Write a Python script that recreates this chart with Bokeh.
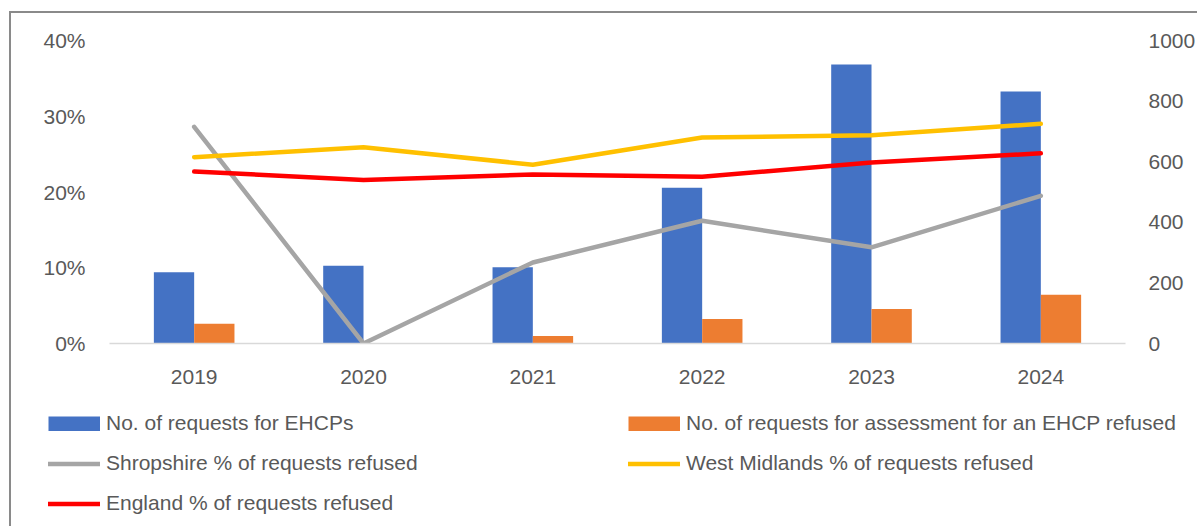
from bokeh.plotting import figure
from bokeh.models import (FactorRange, Range1d, LinearAxis, FixedTicker,
                          NumeralTickFormatter, Legend, LegendItem, ColumnDataSource)
from bokeh.transform import dodge
from bokeh.embed import file_html
from bokeh.resources import INLINE

# ---- data ----
years = ["2019", "2020", "2021", "2022", "2023", "2024"]
ehcp_requests = [235, 257, 252, 514, 921, 832]
requests_refused = [65, 0, 25, 81, 114, 161]
shropshire_pct = [0.286, 0.0, 0.107, 0.162, 0.127, 0.195]
west_midlands_pct = [0.246, 0.259, 0.236, 0.272, 0.275, 0.290]
england_pct = [0.227, 0.216, 0.223, 0.220, 0.239, 0.251]
pct_ticks = [0, 0.1, 0.2, 0.3, 0.4]
count_ticks = [0, 200, 400, 600, 800, 1000]

BLUE, ORANGE, GRAY, YELLOW, RED = "#4472C4", "#ED7D31", "#A5A5A5", "#FFC000", "#FF0000"
TXT = "#595959"
FONT = "Liberation Sans"
BORDER = "2px solid #8a8a8a"

src = ColumnDataSource(dict(years=years, ehcp=ehcp_requests, refused=requests_refused,
                            shrop=shropshire_pct, wm=west_midlands_pct, eng=england_pct))

W, HT, HB = 1188, 390, 125
p = figure(width=W, height=HT, x_range=FactorRange(factors=years, range_padding=0),
           y_range=Range1d(0, 0.4), output_backend="svg", toolbar_location=None,
           min_border_left=98, min_border_right=74, min_border_top=27, min_border_bottom=60)
p.styles = {"border-left": BORDER, "border-top": BORDER,
            "margin-left": "9px", "margin-top": "11px"}
p.extra_y_ranges = {"count": Range1d(0, 1000)}
p.outline_line_color = None
p.xgrid.grid_line_color = None
p.ygrid.grid_line_color = None
p.border_fill_color = "white"

bw = 0.238
p.vbar(x=dodge("years", -bw / 2, range=p.x_range), top="ehcp", width=bw, source=src,
       fill_color=BLUE, line_color=None, y_range_name="count")
p.vbar(x=dodge("years", bw / 2, range=p.x_range), top="refused", width=bw, source=src,
       fill_color=ORANGE, line_color=None, y_range_name="count")

lw = 4.5
line_kw = dict(line_width=lw, line_cap="round", line_join="round")
p.line("years", "shrop", source=src, line_color=GRAY, **line_kw)
p.line("years", "wm", source=src, line_color=YELLOW, **line_kw)
p.line("years", "eng", source=src, line_color=RED, **line_kw)

# axes
ax = p.xaxis[0]
ax.axis_line_color = "#D9D9D9"
ax.axis_line_width = 1.5
ax.major_tick_line_color = None
ax.minor_tick_line_color = None
ax.major_label_text_font = FONT
ax.major_label_text_font_size = "21px"
ax.major_label_text_color = TXT
ax.major_label_standoff = 20

ly = p.yaxis[0]
ly.ticker = FixedTicker(ticks=pct_ticks)
ly.formatter = NumeralTickFormatter(format="0%")
ly.major_label_standoff = 18
ry = LinearAxis(y_range_name="count", ticker=FixedTicker(ticks=count_ticks))
ry.major_label_standoff = 17
p.add_layout(ry, "right")
for a in (ly, ry):
    a.axis_line_color = None
    a.major_tick_line_color = None
    a.minor_tick_line_color = None
    a.major_label_text_font = FONT
    a.major_label_text_font_size = "21px"
    a.major_label_text_color = TXT

# ---- legend strip (separate root, frame = whole canvas) ----
q = figure(width=W, height=HB, x_range=Range1d(0, W), y_range=Range1d(0, HB),
           x_axis_type=None, y_axis_type=None, output_backend="svg", toolbar_location=None,
           min_border=0, min_border_left=0, min_border_right=0, min_border_top=0,
           min_border_bottom=0)
q.styles = {"border-left": BORDER, "margin-left": "9px"}
q.outline_line_color = None
q.grid.visible = False
q.border_fill_color = "white"

proxy = ColumnDataSource(dict(x=[-500, -400], y=[-500, -500]))
r_b = q.line("x", "y", source=proxy, line_color=BLUE, line_width=15, line_cap="butt")
r_o = q.line("x", "y", source=proxy, line_color=ORANGE, line_width=15, line_cap="butt")
r_sh = q.line("x", "y", source=proxy, line_color=GRAY, **line_kw)
r_wm = q.line("x", "y", source=proxy, line_color=YELLOW, **line_kw)
r_en = q.line("x", "y", source=proxy, line_color=RED, **line_kw)


def mk_legend(items, loc):
    return Legend(items=items, location=loc, orientation="vertical",
                  glyph_width=52, glyph_height=15, label_standoff=6,
                  label_height=21, spacing=16, padding=0, margin=0,
                  border_line_color=None, background_fill_alpha=0,
                  label_text_font=FONT, label_text_font_size="21px",
                  label_text_color=TXT, label_text_baseline="middle")


leg1 = mk_legend([LegendItem(label="No. of requests for EHCPs", renderers=[r_b]),
                  LegendItem(label="Shropshire % of requests refused", renderers=[r_sh]),
                  LegendItem(label="England % of requests refused", renderers=[r_en])],
                 (37, 11))
leg2 = mk_legend([LegendItem(label="No. of requests for assessment for an EHCP refused", renderers=[r_o]),
                  LegendItem(label="West Midlands % of requests refused", renderers=[r_wm])],
                 (617, 51))
q.add_layout(leg1, "center")
q.add_layout(leg2, "center")

open("out.html", "w").write(file_html([p, q], INLINE))
